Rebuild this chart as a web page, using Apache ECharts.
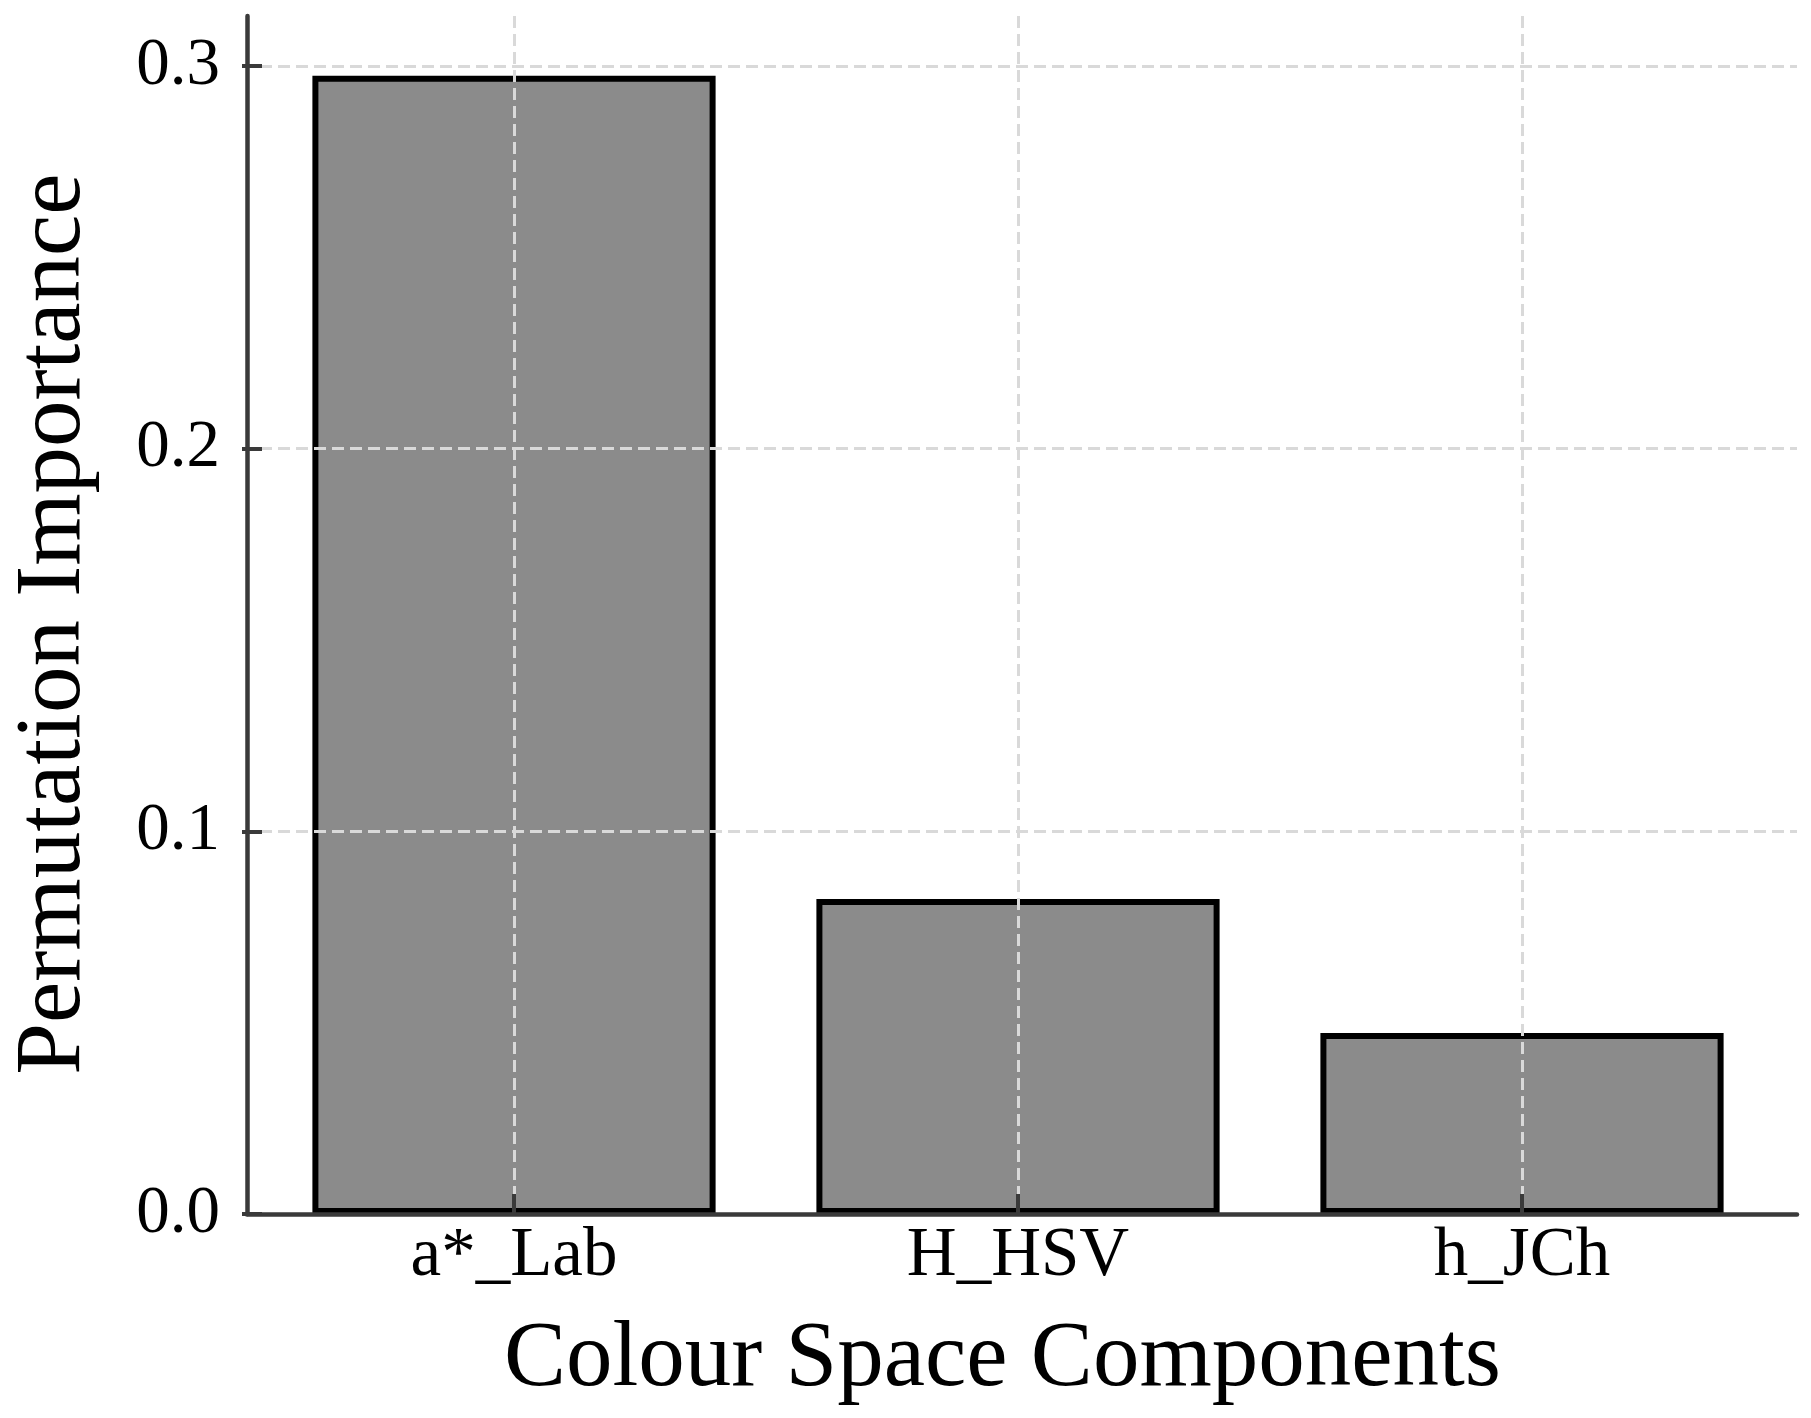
<!DOCTYPE html>
<html>
<head>
<meta charset="utf-8">
<title>Permutation Importance</title>
<script src="https://cdn.jsdelivr.net/npm/echarts@6/dist/echarts.min.js"></script>
<style>
  html, body { margin: 0; padding: 0; background: #fff; }
  #chart { width: 1811px; height: 1418px; }
</style>
</head>
<body>
<div id="chart"></div>
<script>
// data
var categories = ['a*_Lab', 'H_HSV', 'h_JCh'];
var importance = [0.2975, 0.0823, 0.0473];
var yTicks = [0, 0.1, 0.2, 0.3];

var font = "'Liberation Serif', 'DejaVu Serif', serif";
var axisColor = '#3a3a3a';
var gridLine = { show: true, lineStyle: { color: '#d9d9d9', width: 3, type: [12, 6] } };

var chart = echarts.init(document.getElementById('chart'));

var option = {
  backgroundColor: '#fff',
  animation: false,
  grid: [
    // frame (spines + axis titles)
    { left: 242, right: 14, top: 16, bottom: 204 },
    // horizontal grid + y ticks
    { left: 242, right: 14, top: 66, bottom: 204 },
    // bars
    { left: 262, width: 1512, top: 16, bottom: 204 }
  ],
  xAxis: [
    {
      gridIndex: 0, type: 'value', min: 0, max: 1, z: 6,
      axisLine: { show: true, lineStyle: { color: axisColor, width: 4.5 } },
      axisTick: { show: false }, axisLabel: { show: false }, splitLine: { show: false },
      name: 'Colour Space Components', nameLocation: 'middle', nameGap: 100,
      nameTextStyle: { fontFamily: font, fontSize: 93, color: '#000', padding: [0, 39, 0, 0] }
    },
    { gridIndex: 1, type: 'value', min: 0, max: 1, show: false },
    {
      gridIndex: 2, type: 'category', data: categories, z: 5,
      axisLine: { show: false },
      axisTick: { show: true, inside: true, alignWithLabel: true, length: 20,
                  lineStyle: { color: axisColor, width: 4 } },
      axisLabel: { fontFamily: font, fontSize: 69, color: '#000', margin: 8 },
      splitLine: { show: true, alignWithLabel: true, lineStyle: gridLine.lineStyle }
    }
  ],
  yAxis: [
    {
      gridIndex: 0, type: 'value', min: 0, max: 0.3131, z: 6,
      axisLine: { show: true, lineStyle: { color: axisColor, width: 4.5 } },
      axisTick: { show: false }, axisLabel: { show: false }, splitLine: { show: false },
      name: 'Permutation Importance', nameLocation: 'middle', nameGap: 146, nameRotate: 90,
      nameTextStyle: { fontFamily: font, fontSize: 93, color: '#000', padding: [0, 18, 0, 0] }
    },
    {
      gridIndex: 1, type: 'value', min: yTicks[0], max: yTicks[yTicks.length - 1], interval: 0.1, z: 5,
      axisLine: { show: false },
      axisTick: { show: true, inside: true, length: 20, lineStyle: { color: axisColor, width: 4 } },
      axisLabel: { fontFamily: font, fontSize: 67, color: '#000', margin: 22,
                   formatter: function (v) { return v.toFixed(1); } },
      splitLine: gridLine
    },
    { gridIndex: 2, type: 'value', min: 0, max: 0.3131, show: false }
  ],
  series: [{
    type: 'bar',
    xAxisIndex: 2,
    yAxisIndex: 2,
    data: importance,
    barWidth: '80%',
    z: 2,
    itemStyle: { color: '#8b8b8b', borderColor: '#000', borderWidth: 6 }
  }]
};

chart.setOption(option);
</script>
</body>
</html>
